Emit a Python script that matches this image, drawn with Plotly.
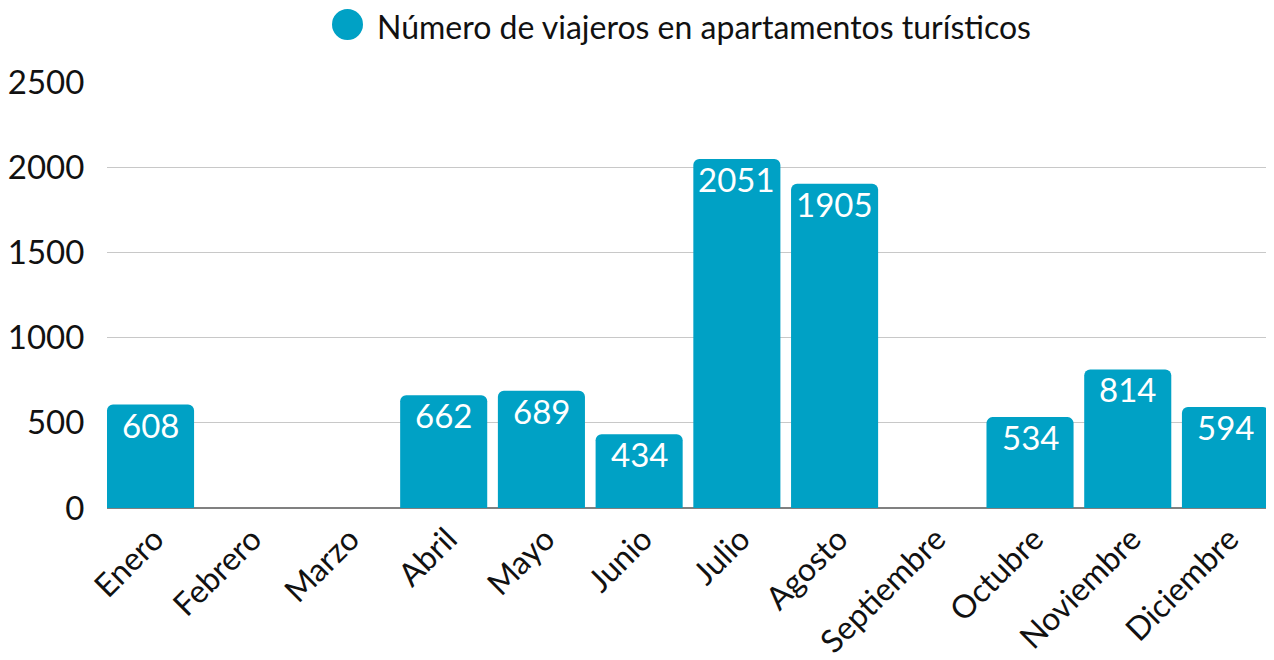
import plotly.graph_objects as go

months = ["Enero", "Febrero", "Marzo", "Abril", "Mayo", "Junio", "Julio",
          "Agosto", "Septiembre", "Octubre", "Noviembre", "Diciembre"]
viajeros = [608, None, None, 662, 689, 434, 2051, 1905, None, 534, 814, 594]
series_name = "Número de viajeros en apartamentos turísticos"
y_ticks = [0, 500, 1000, 1500, 2000, 2500]

COLOR = "#00a1c5"
FONT = "Lato"

# the page body has an 8px margin; the figure starts at (8, 8)
OFF = 8
W, H = 1274 - OFF, 660 - OFF
L, T = 107 - OFF, 82 - OFF
R = W - (1269 - OFF)
B = H - (508 - OFF)
PW, PH = W - L - R, H - T - B

BAR_FRAC = 0.891

def px_x(x):
    return (x - OFF - L) / PW

def px_y(y):
    return (H - B - (y - OFF)) / PH

fig = go.Figure()
fig.add_trace(go.Bar(
    x=months, y=viajeros, name=series_name,
    marker=dict(color=COLOR, cornerradius=6, line=dict(width=0)),
    showlegend=False, hoverinfo="x+y",
))

# value labels inside the top of each bar
for m, v in zip(months, viajeros):
    if v is None:
        continue
    fig.add_annotation(x=m, y=v, text=str(v), showarrow=False,
                       xanchor="center", yanchor="middle", yshift=-20,
                       font=dict(family=FONT, size=33, color="white"))

fig.update_layout(
    width=W, height=H,
    margin=dict(l=L, r=R, t=T, b=B),
    plot_bgcolor="white", paper_bgcolor="white",
    bargap=1 - BAR_FRAC,
    font=dict(family=FONT, size=32, color="#111111"),
    xaxis=dict(tickangle=-45, tickfont=dict(family=FONT, size=32, color="#111111"),
               range=[-BAR_FRAC / 2, len(months) - 1 + BAR_FRAC / 2],
               showgrid=False, ticks="", showline=False, automargin=False,
               ticklabelstandoff=5, ticklabelshift=4),
    yaxis=dict(range=[0, 2503], tickvals=y_ticks, ticktext=[str(t) for t in y_ticks],
               tickfont=dict(family=FONT, size=33, color="#111111"),
               showgrid=True, gridcolor="#c8c8c8", gridwidth=1,
               zeroline=True, zerolinecolor="#808080", zerolinewidth=1.5,
               ticks="outside", ticklen=15, tickcolor="rgba(0,0,0,0)",
               automargin=False),
    showlegend=False,
)

# legend drawn as circle + text
fig.add_shape(type="circle", xref="paper", yref="paper",
              x0=px_x(332), x1=px_x(363),
              y0=px_y(40), y1=px_y(9),
              fillcolor=COLOR, line=dict(width=0))
fig.add_annotation(text=series_name, xref="paper", yref="paper",
                   x=px_x(375), y=px_y(26),
                   xanchor="left", yanchor="middle", showarrow=False,
                   font=dict(family=FONT, size=32, color="#111111"))

fig.write_html("out.html")
